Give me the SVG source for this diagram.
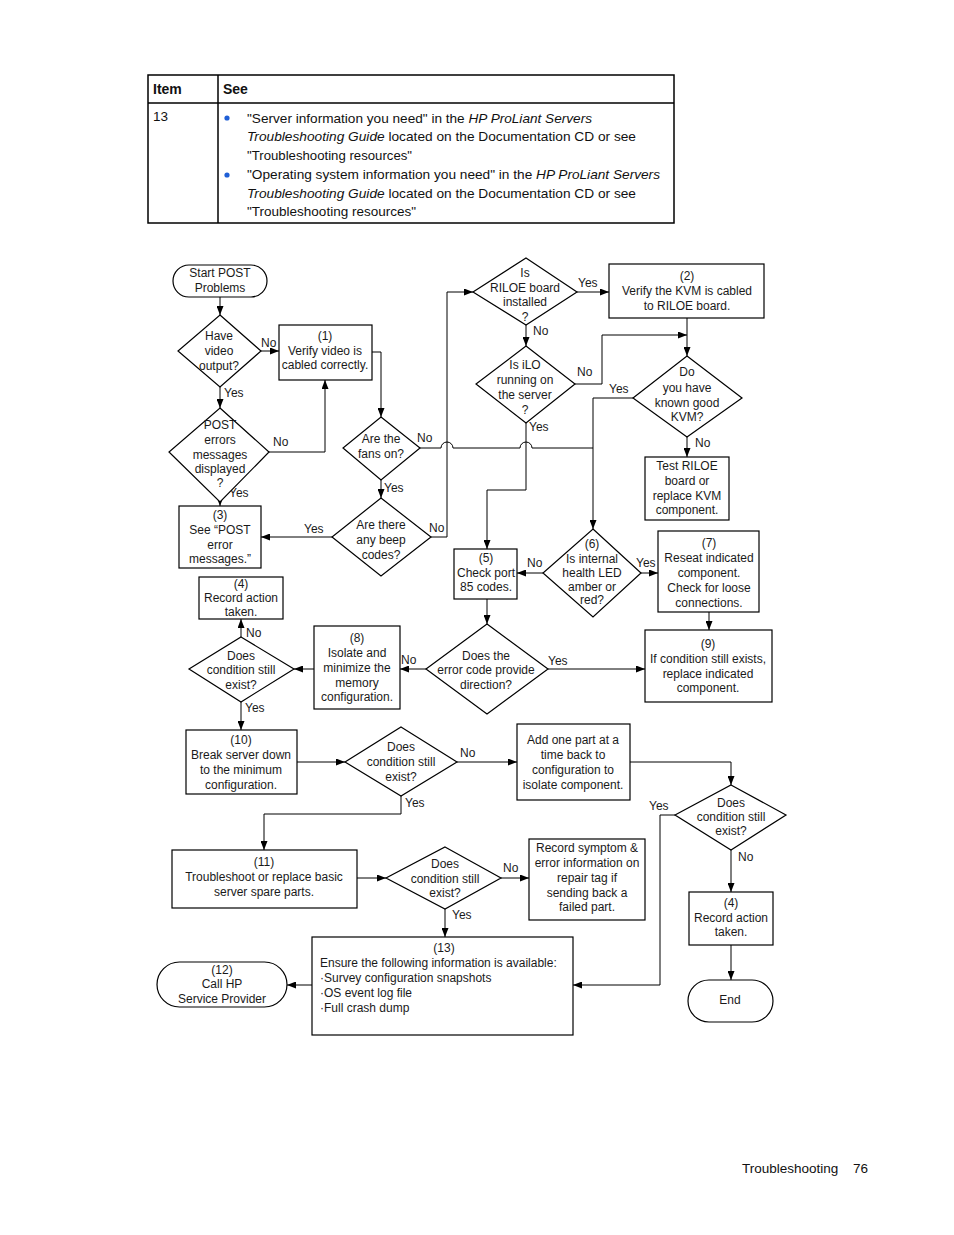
<svg xmlns="http://www.w3.org/2000/svg" width="954" height="1235" viewBox="0 0 954 1235">
<defs>
<marker id="ar" markerUnits="userSpaceOnUse" markerWidth="9" markerHeight="7" refX="9" refY="3.5" orient="auto">
<path d="M0,0 L9,3.5 L0,7 z" fill="#000"/>
</marker>
<style>
.tb{fill:none;stroke:#000;stroke-width:1.5}
.tt{font-family:"Liberation Sans",Arial,sans-serif;font-size:13.5px;fill:#111}
.th{font-family:"Liberation Sans",Arial,sans-serif;font-size:14px;font-weight:bold;fill:#111}
.n{fill:#fff;stroke:#000;stroke-width:1.2}
.t{font-family:"Liberation Sans",Arial,sans-serif;font-size:12px;fill:#1a1a1a;text-anchor:middle}
.tl{font-family:"Liberation Sans",Arial,sans-serif;font-size:12px;fill:#1a1a1a}
.c{fill:none;stroke:#000;stroke-width:1}
.ca{fill:none;stroke:#000;stroke-width:1;marker-end:url(#ar)}
</style>
</defs>
<rect width="954" height="1235" fill="#fff"/>

<g id="table">
<rect class="tb" x="148" y="75" width="526" height="148"/>
<line class="tb" x1="148" y1="103" x2="674" y2="103"/>
<line class="tb" x1="218" y1="75" x2="218" y2="223"/>
<text class="th" x="153" y="94">Item</text>
<text class="th" x="223" y="94">See</text>
<text class="tt" x="153" y="121">13</text>
<circle cx="227" cy="118" r="2.6" fill="#1f5fd6"/>
<circle cx="227" cy="175" r="2.6" fill="#1f5fd6"/>
<text class="tt" x="247" y="123" textLength="345" lengthAdjust="spacingAndGlyphs">"Server information you need" in the <tspan font-style="italic">HP ProLiant Servers</tspan></text>
<text class="tt" x="247" y="141" textLength="389" lengthAdjust="spacingAndGlyphs"><tspan font-style="italic">Troubleshooting Guide</tspan> located on the Documentation CD or see</text>
<text class="tt" x="247" y="160" textLength="165" lengthAdjust="spacingAndGlyphs">"Troubleshooting resources"</text>
<text class="tt" x="247" y="179" textLength="413" lengthAdjust="spacingAndGlyphs">"Operating system information you need" in the <tspan font-style="italic">HP ProLiant Servers</tspan></text>
<text class="tt" x="247" y="198" textLength="389" lengthAdjust="spacingAndGlyphs"><tspan font-style="italic">Troubleshooting Guide</tspan> located on the Documentation CD or see</text>
<text class="tt" x="247" y="216" textLength="169" lengthAdjust="spacingAndGlyphs">"Troubleshooting resources"</text>
</g>

<g id="connectors">
<path class="ca" d="M220,297 V315"/>
<path class="ca" d="M261,351 H279"/>
<path class="ca" d="M220,387 V408"/>
<path class="ca" d="M269,452 H325 V380"/>
<path class="ca" d="M372,352 H381 V417"/>
<path class="ca" d="M220,502 V506"/>
<path class="ca" d="M381,480 V498"/>
<path class="ca" d="M332,537 H261"/>
<path class="ca" d="M431,537 H447 V292 H473"/>
<path class="c" d="M420,448 H441 A6,6 0 0 1 453,448 H520 A6,6 0 0 1 532,448 H593"/>
<path class="ca" d="M577,292 H609"/>
<path class="ca" d="M526,325 V346"/>
<path class="ca" d="M687,318 V356"/>
<path class="ca" d="M575,384 H602 V335 H687"/>
<path class="ca" d="M526,423 V490 H487 V549"/>
<path class="ca" d="M633,398 H593 V529"/>
<path class="ca" d="M687,437 V457"/>
<path class="ca" d="M543,573 H517"/>
<path class="ca" d="M641,573 H658"/>
<path class="ca" d="M487,599 V624"/>
<path class="ca" d="M709,612 V630"/>
<path class="ca" d="M548,669 H645"/>
<path class="ca" d="M426,669 H400"/>
<path class="ca" d="M314,669 H294"/>
<path class="ca" d="M241,637 V619"/>
<path class="ca" d="M241,702 V730"/>
<path class="ca" d="M297,762 H345"/>
<path class="ca" d="M457,762 H517"/>
<path class="ca" d="M401,796 V814 H264 V850"/>
<path class="ca" d="M630,762 H731 V785"/>
<path class="ca" d="M675,815 H660 V985 H573"/>
<path class="ca" d="M731,850 V892"/>
<path class="ca" d="M731,945 V980"/>
<path class="ca" d="M357,878 H386"/>
<path class="ca" d="M501,878 H529"/>
<path class="ca" d="M445,909 V937"/>
<path class="ca" d="M312,985 H287"/>
</g>

<g id="labels">
<text class="tl" x="261" y="347">No</text>
<text class="tl" x="224" y="397">Yes</text>
<text class="tl" x="273" y="446">No</text>
<text class="tl" x="229" y="497">Yes</text>
<text class="tl" x="417" y="442">No</text>
<text class="tl" x="384" y="492">Yes</text>
<text class="tl" x="429" y="532">No</text>
<text class="tl" x="304" y="533">Yes</text>
<text class="tl" x="578" y="287">Yes</text>
<text class="tl" x="533" y="335">No</text>
<text class="tl" x="577" y="376">No</text>
<text class="tl" x="529" y="431">Yes</text>
<text class="tl" x="609" y="393">Yes</text>
<text class="tl" x="695" y="447">No</text>
<text class="tl" x="527" y="567">No</text>
<text class="tl" x="636" y="567">Yes</text>
<text class="tl" x="548" y="665">Yes</text>
<text class="tl" x="401" y="664">No</text>
<text class="tl" x="246" y="637">No</text>
<text class="tl" x="245" y="712">Yes</text>
<text class="tl" x="460" y="757">No</text>
<text class="tl" x="405" y="807">Yes</text>
<text class="tl" x="503" y="872">No</text>
<text class="tl" x="452" y="919">Yes</text>
<text class="tl" x="649" y="810">Yes</text>
<text class="tl" x="738" y="861">No</text>
</g>

<g id="start">
<rect class="n" x="173" y="265" width="94" height="32" rx="16"/>
<text class="t" x="220" y="277">Start POST</text>
<text class="t" x="220" y="292">Problems</text>
</g>
<g id="q-video">
<polygon class="n" points="220,315 261,351 220,387 178,351"/>
<text class="t" x="219" y="340">Have</text>
<text class="t" x="219" y="355">video</text>
<text class="t" x="219" y="370">output?</text>
</g>
<g id="box1">
<rect class="n" x="279" y="325" width="93" height="55"/>
<text class="t" x="325" y="340">(1)</text>
<text class="t" x="325" y="355">Verify video is</text>
<text class="t" x="325" y="369">cabled correctly.</text>
</g>
<g id="q-post">
<polygon class="n" points="220,408 269,452 220,502 169,452"/>
<text class="t" x="220" y="429">POST</text>
<text class="t" x="220" y="444">errors</text>
<text class="t" x="220" y="459">messages</text>
<text class="t" x="220" y="473">displayed</text>
<text class="t" x="220" y="487">?</text>
</g>
<g id="q-fans">
<polygon class="n" points="381,417 420,448 381,480 343,448"/>
<text class="t" x="381" y="443">Are the</text>
<text class="t" x="381" y="458">fans on?</text>
</g>
<g id="q-beep">
<polygon class="n" points="381,498 431,537 381,576 332,537"/>
<text class="t" x="381" y="529">Are there</text>
<text class="t" x="381" y="544">any beep</text>
<text class="t" x="381" y="559">codes?</text>
</g>
<g id="box3">
<rect class="n" x="179" y="506" width="82" height="62"/>
<text class="t" x="220" y="519">(3)</text>
<text class="t" x="220" y="534">See “POST</text>
<text class="t" x="220" y="549">error</text>
<text class="t" x="220" y="563">messages.”</text>
</g>
<g id="box4a">
<rect class="n" x="199" y="577" width="84" height="42"/>
<text class="t" x="241" y="588">(4)</text>
<text class="t" x="241" y="602">Record action</text>
<text class="t" x="241" y="616">taken.</text>
</g>
<g id="q-cond1">
<polygon class="n" points="241,637 294,669 241,702 189,669"/>
<text class="t" x="241" y="660">Does</text>
<text class="t" x="241" y="674">condition still</text>
<text class="t" x="241" y="689">exist?</text>
</g>
<g id="box8">
<rect class="n" x="314" y="626" width="86" height="83"/>
<text class="t" x="357" y="642">(8)</text>
<text class="t" x="357" y="657">Isolate and</text>
<text class="t" x="357" y="672">minimize the</text>
<text class="t" x="357" y="687">memory</text>
<text class="t" x="357" y="701">configuration.</text>
</g>
<g id="q-error">
<polygon class="n" points="487,624 548,669 487,714 426,669"/>
<text class="t" x="486" y="660">Does the</text>
<text class="t" x="486" y="674">error code provide</text>
<text class="t" x="486" y="689">direction?</text>
</g>
<g id="box5">
<rect class="n" x="454" y="549" width="63" height="50"/>
<text class="t" x="486" y="562">(5)</text>
<text class="t" x="486" y="577">Check port</text>
<text class="t" x="486" y="591">85 codes.</text>
</g>
<g id="q-led">
<polygon class="n" points="593,529 641,573 593,617 543,573"/>
<text class="t" x="592" y="548">(6)</text>
<text class="t" x="592" y="563">Is internal</text>
<text class="t" x="592" y="577">health LED</text>
<text class="t" x="592" y="591">amber or</text>
<text class="t" x="592" y="604">red?</text>
</g>
<g id="box7">
<rect class="n" x="658" y="531" width="101" height="81"/>
<text class="t" x="709" y="547">(7)</text>
<text class="t" x="709" y="562">Reseat indicated</text>
<text class="t" x="709" y="577">component.</text>
<text class="t" x="709" y="592">Check for loose</text>
<text class="t" x="709" y="607">connections.</text>
</g>
<g id="box9">
<rect class="n" x="645" y="630" width="127" height="72"/>
<text class="t" x="708" y="648">(9)</text>
<text class="t" x="708" y="663">If condition still exists,</text>
<text class="t" x="708" y="678">replace indicated</text>
<text class="t" x="708" y="692">component.</text>
</g>
<g id="q-riloe">
<polygon class="n" points="526,258 577,292 526,325 473,292"/>
<text class="t" x="525" y="277">Is</text>
<text class="t" x="525" y="292">RILOE board</text>
<text class="t" x="525" y="306">installed</text>
<text class="t" x="525" y="321">?</text>
</g>
<g id="box2">
<rect class="n" x="609" y="264" width="155" height="54"/>
<text class="t" x="687" y="280">(2)</text>
<text class="t" x="687" y="295">Verify the KVM is cabled</text>
<text class="t" x="687" y="310">to RILOE board.</text>
</g>
<g id="q-ilo">
<polygon class="n" points="526,346 575,384 526,423 476,384"/>
<text class="t" x="525" y="369">Is iLO</text>
<text class="t" x="525" y="384">running on</text>
<text class="t" x="525" y="399">the server</text>
<text class="t" x="525" y="414">?</text>
</g>
<g id="q-kvm">
<polygon class="n" points="687,356 742,398 687,437 633,398"/>
<text class="t" x="687" y="376">Do</text>
<text class="t" x="687" y="392">you have</text>
<text class="t" x="687" y="407">known good</text>
<text class="t" x="687" y="421">KVM?</text>
</g>
<g id="box-test">
<rect class="n" x="645" y="457" width="84" height="63" stroke-width="1"/>
<text class="t" x="687" y="470">Test RILOE</text>
<text class="t" x="687" y="485">board or</text>
<text class="t" x="687" y="500">replace KVM</text>
<text class="t" x="687" y="514">component.</text>
</g>
<g id="box10">
<rect class="n" x="186" y="730" width="111" height="64"/>
<text class="t" x="241" y="744">(10)</text>
<text class="t" x="241" y="759">Break server down</text>
<text class="t" x="241" y="774">to the minimum</text>
<text class="t" x="241" y="789">configuration.</text>
</g>
<g id="q-cond2">
<polygon class="n" points="401,727 457,762 401,796 345,762"/>
<text class="t" x="401" y="751">Does</text>
<text class="t" x="401" y="766">condition still</text>
<text class="t" x="401" y="781">exist?</text>
</g>
<g id="box-add">
<rect class="n" x="517" y="724" width="113" height="76"/>
<text class="t" x="573" y="744">Add one part at a</text>
<text class="t" x="573" y="759">time back to</text>
<text class="t" x="573" y="774">configuration to</text>
<text class="t" x="573" y="789">isolate component.</text>
</g>
<g id="q-cond3">
<polygon class="n" points="731,785 786,815 731,850 675,815"/>
<text class="t" x="731" y="807">Does</text>
<text class="t" x="731" y="821">condition still</text>
<text class="t" x="731" y="835">exist?</text>
</g>
<g id="box4b">
<rect class="n" x="689" y="892" width="84" height="53" stroke-width="1"/>
<text class="t" x="731" y="907">(4)</text>
<text class="t" x="731" y="922">Record action</text>
<text class="t" x="731" y="936">taken.</text>
</g>
<g id="end">
<rect class="n" x="688" y="980" width="85" height="42" rx="21"/>
<text class="t" x="730" y="1004">End</text>
</g>
<g id="box11">
<rect class="n" x="172" y="850" width="185" height="58"/>
<text class="t" x="264" y="866">(11)</text>
<text class="t" x="264" y="881">Troubleshoot or replace basic</text>
<text class="t" x="264" y="896">server spare parts.</text>
</g>
<g id="q-cond4">
<polygon class="n" points="445,847 501,878 445,909 386,878"/>
<text class="t" x="445" y="868">Does</text>
<text class="t" x="445" y="883">condition still</text>
<text class="t" x="445" y="897">exist?</text>
</g>
<g id="box-record">
<rect class="n" x="529" y="839" width="116" height="81" stroke-width="1"/>
<text class="t" x="587" y="852">Record symptom &amp;</text>
<text class="t" x="587" y="867">error information on</text>
<text class="t" x="587" y="882">repair tag if</text>
<text class="t" x="587" y="897">sending back a</text>
<text class="t" x="587" y="911">failed part.</text>
</g>
<g id="box13">
<rect class="n" x="312" y="937" width="261" height="98"/>
<text class="t" x="444" y="952">(13)</text>
<text class="tl" x="320" y="967">Ensure the following information is available:</text>
<text class="tl" x="320" y="982">·Survey configuration snapshots</text>
<text class="tl" x="320" y="997">·OS event log file</text>
<text class="tl" x="320" y="1012">·Full crash dump</text>
</g>
<g id="box12">
<rect class="n" x="157" y="962" width="130" height="45" rx="22.5"/>
<text class="t" x="222" y="974">(12)</text>
<text class="t" x="222" y="988">Call HP</text>
<text class="t" x="222" y="1003">Service Provider</text>
</g>

<g id="footer">
<text class="tt" x="742" y="1173" font-size="14">Troubleshooting</text>
<text class="tt" x="853" y="1173" font-size="14">76</text>
</g>
</svg>
